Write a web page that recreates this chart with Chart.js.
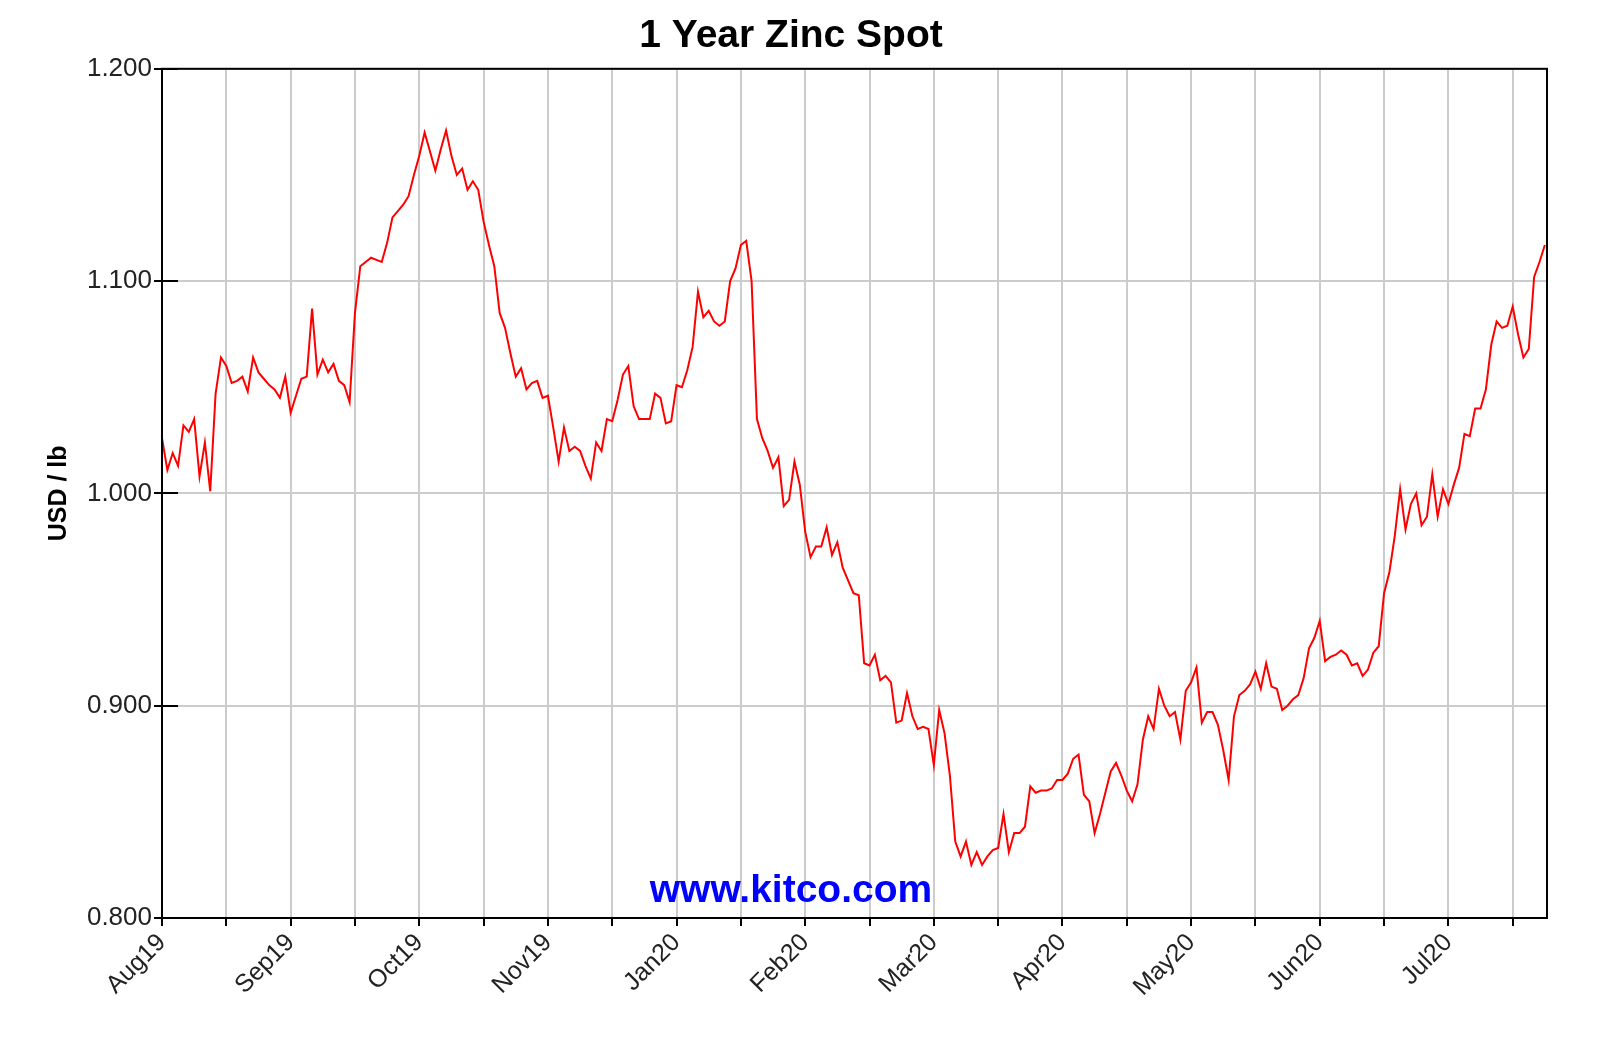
<!DOCTYPE html>
<html><head><meta charset="utf-8">
<script src="https://cdn.jsdelivr.net/npm/chart.js@4/dist/chart.umd.min.js"></script>
<style>html,body{margin:0;padding:0;background:#fff;overflow:hidden}#wrap{width:1606px;height:1055px;position:relative}</style>
</head><body><div id="wrap"><canvas id="c"></canvas></div>
<script>
// ---- data ----
const monthLabels = ['Aug19','Sep19','Oct19','Nov19','Jan20','Feb20','Mar20','Apr20','May20','Jun20','Jul20'];
const pointsPerLabel = 24;   // trading days between labelled gridlines
const pointsPerGrid = 12;    // trading days between gridlines
const lastIndex = 258.4;     // right edge of the time axis
const yTickValues = [0.8, 0.9, 1.0, 1.1, 1.2];
const prices = [
1.026,1.011,1.019,1.013,1.032,1.029,1.035,1.008,1.024,1.001,1.047,1.064,
1.060,1.052,1.053,1.055,1.048,1.064,1.057,1.054,1.051,1.049,1.045,1.055,
1.038,1.046,1.054,1.055,1.087,1.056,1.063,1.057,1.061,1.053,1.051,1.043,
1.085,1.107,1.109,1.111,1.110,1.109,1.118,1.130,1.133,1.136,1.140,1.150,
1.159,1.170,1.161,1.152,1.162,1.171,1.159,1.150,1.153,1.143,1.147,1.143,
1.128,1.117,1.107,1.085,1.078,1.066,1.055,1.059,1.049,1.052,1.053,1.045,
1.046,1.031,1.015,1.031,1.020,1.022,1.020,1.013,1.007,1.024,1.020,1.035,
1.034,1.044,1.056,1.060,1.041,1.035,1.035,1.035,1.047,1.045,1.033,1.034,
1.051,1.050,1.058,1.069,1.095,1.083,1.086,1.081,1.079,1.081,1.100,1.106,
1.117,1.119,1.100,1.035,1.026,1.020,1.012,1.017,0.994,0.997,1.015,1.004,
0.982,0.970,0.975,0.975,0.984,0.971,0.977,0.965,0.959,0.953,0.952,0.920,
0.919,0.924,0.912,0.914,0.911,0.892,0.893,0.906,0.895,0.889,0.890,0.889,
0.872,0.898,0.887,0.867,0.836,0.829,0.836,0.825,0.831,0.825,0.829,0.832,
0.833,0.849,0.831,0.840,0.840,0.843,0.862,0.859,0.860,0.860,0.861,0.865,
0.865,0.868,0.875,0.877,0.858,0.855,0.840,0.849,0.859,0.869,0.873,0.867,
0.860,0.855,0.863,0.884,0.895,0.889,0.908,0.900,0.895,0.897,0.884,0.907,
0.911,0.918,0.892,0.897,0.897,0.891,0.879,0.865,0.895,0.905,0.907,0.910,
0.916,0.908,0.920,0.909,0.908,0.898,0.900,0.903,0.905,0.913,0.927,0.932,
0.940,0.921,0.923,0.924,0.926,0.924,0.919,0.920,0.914,0.917,0.925,0.928,
0.953,0.963,0.980,1.002,0.983,0.995,1.000,0.985,0.989,1.009,0.989,1.002,
0.995,1.004,1.012,1.028,1.027,1.040,1.040,1.049,1.070,1.081,1.078,1.079,
1.088,1.075,1.064,1.068,1.102,1.109,1.117
];
// ---------------

const points = prices.map((v, i) => ({x: i, y: v}));
const gridTicks = [];
for (let t = 0; t <= lastIndex; t += pointsPerGrid) gridTicks.push(t);

const FONT = '"Liberation Sans", Arial, Helvetica, sans-serif';
Chart.defaults.font.family = FONT;
Chart.defaults.color = '#111';

const frame = {
  id: 'frame',
  afterDatasetsDraw(chart) {
    const {ctx, chartArea: a} = chart;
    ctx.save();
    ctx.fillStyle = '#0000ff';
    ctx.font = 'bold 39px ' + FONT;
    ctx.textAlign = 'center';
    ctx.textBaseline = 'alphabetic';
    ctx.fillText('www.kitco.com', chart.width / 2 - 12, a.bottom - 16);
    ctx.restore();
  },
  afterDraw(chart) {
    const {ctx, chartArea: a, scales} = chart;
    ctx.save();
    ctx.strokeStyle = '#000';
    ctx.lineWidth = 2;
    ctx.strokeRect(a.left, a.top, a.right - a.left, a.bottom - a.top);
    ctx.beginPath();
    scales.y.ticks.forEach(t => {
      const py = Math.round(scales.y.getPixelForValue(t.value));
      ctx.moveTo(a.left, py);
      ctx.lineTo(a.left + 16, py);
    });
    ctx.stroke();
    ctx.restore();
  }
};

new Chart(document.getElementById('c'), {
  type: 'line',
  data: {
    datasets: [{
      data: points,
      borderColor: '#ff0000',
      borderWidth: 2,
      pointRadius: 0,
      tension: 0,
      fill: false
    }]
  },
  options: {
    responsive: true,
    maintainAspectRatio: false,
    animation: false,
    parsing: false,
    normalized: true,
    layout: {padding: {left: 35, right: 59, top: 0, bottom: 0}},
    plugins: {
      legend: {display: false},
      tooltip: {enabled: false},
      title: {
        display: true,
        text: '1 Year Zinc Spot',
        color: '#000',
        font: {size: 39, weight: 'bold', lineHeight: 1.2},
        padding: {top: 13, bottom: 9}
      }
    },
    scales: {
      x: {
        type: 'linear',
        min: 0,
        max: lastIndex,
        afterBuildTicks: s => { s.ticks = gridTicks.map(v => ({value: v})); },
        afterFit: s => { s.height = 137; },
        grid: {color: '#cccccc', lineWidth: 2, tickLength: 8, tickColor: '#000'},
        border: {display: true, color: '#000', width: 2},
        ticks: {
          autoSkip: false,
          minRotation: 45,
          maxRotation: 45,
          padding: 2,
          font: {size: 25},
          color: '#222',
          callback: v => (v % pointsPerLabel === 0 ? monthLabels[v / pointsPerLabel] : '')
        }
      },
      y: {
        type: 'linear',
        min: 0.8,
        max: 1.2,
        afterBuildTicks: s => { s.ticks = yTickValues.map(v => ({value: v})); },
        afterFit: s => { s.width = 127; },
        grid: {color: '#cccccc', lineWidth: 2, tickLength: 8, tickColor: '#000'},
        border: {display: true, color: '#000', width: 2},
        title: {
          display: true,
          text: 'USD / lb',
          color: '#000',
          font: {size: 25, weight: 'bold', lineHeight: 1.2},
          padding: {top: 9, bottom: 0}
        },
        ticks: {
          padding: 2,
          font: {size: 26},
          color: '#222',
          callback: v => Number(v).toFixed(3)
        }
      }
    }
  },
  plugins: [frame]
});
</script>
</body></html>
